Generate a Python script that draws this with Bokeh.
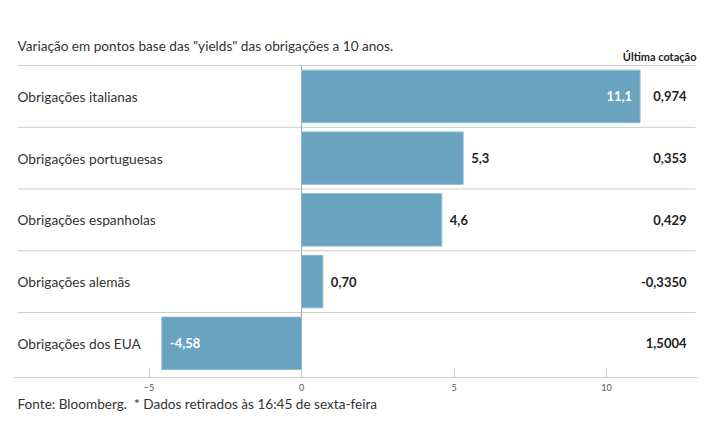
from bokeh.plotting import figure
from bokeh.models import ColumnDataSource, Range1d, FixedTicker, Label, Title
from bokeh.core.properties import value
from bokeh.embed import file_html
from bokeh.resources import INLINE

categories = ["Obrigações italianas", "Obrigações portuguesas", "Obrigações espanholas",
              "Obrigações alemãs", "Obrigações dos EUA"]
changes = [11.1, 5.3, 4.6, 0.70, -4.58]
change_labels = ["11,1", "5,3", "4,6", "0,70", "-4,58"]
last_quotes = ["0,974", "0,353", "0,429", "-0,3350", "1,5004"]
x_ticks = [-5, 0, 5, 10]

FONT = "Lato"
BAR = "#6aa3bf"
n = len(categories)
ys = [n - 0.5 - i for i in range(n)]

inside = [(v < 0) or (v > 8) for v in changes]
align, offs, cols = [], [], []
for v, ins in zip(changes, inside):
    if ins:
        align.append("right" if v > 0 else "left")
        offs.append(-8 if v > 0 else 8)
        cols.append("#ffffff")
    else:
        align.append("left")
        offs.append(8)
        cols.append("#222222")

src = ColumnDataSource(dict(y=ys, v=changes, lab=change_labels, cat=categories,
                            q=last_quotes, align=align, off=offs, col=cols,
                            zero=[0] * n))

PX = 30.5     # px per x unit
PY = 61.7     # px per row
X0 = -301 / PX
X1 = (715 - 301) / PX
SEP_L, SEP_R = (17 - 301) / PX, (695 - 301) / PX
AX_L, AX_R = (13 - 301) / PX, (697 - 301) / PX
Y0 = -3.3 / PY
Y_TOP = n + 65 / PY

p = figure(width=715, height=445, output_backend="svg", toolbar_location=None,
           x_range=Range1d(X0, X1), y_range=Range1d(Y0, Y_TOP), y_axis_location=None,
           min_border_left=0, min_border_right=0, min_border_top=0, min_border_bottom=68)
p.outline_line_color = None
p.grid.visible = False
p.xaxis.ticker = FixedTicker(ticks=x_ticks)
p.xaxis.bounds = (AX_L, AX_R)
p.xaxis.axis_line_color = "#cccccc"
p.xaxis.major_tick_line_color = "#cccccc"
p.xaxis.major_tick_in = 9
p.xaxis.major_tick_out = 0
p.xaxis.minor_tick_line_color = None
p.xaxis.major_label_text_font = FONT
p.xaxis.major_label_text_font_size = "9px"
p.xaxis.major_label_text_color = "#555555"
p.xaxis.major_label_standoff = 6

# row separators and zero line
bounds = list(range(1, n + 1))
p.segment(x0=[SEP_L] * n, x1=[SEP_R] * n, y0=bounds, y1=bounds,
          line_color="#cccccc", line_width=1)
p.segment(x0=[0], x1=[0], y0=[Y0], y1=[n], line_color="#aaaaaa", line_width=1)

p.hbar(y="y", left="zero", right="v", height=0.85, source=src,
       fill_color=BAR, line_color="#8fbcd2", line_width=1)

p.text(x="v", y="y", text="lab", source=src, text_align="align", x_offset="off",
       text_color="col", text_baseline="middle", text_font=value(FONT),
       text_font_size="13px", text_font_style="bold")

xl = X0 + 17 / PX
p.text(x=xl, y="y", text="cat", source=src, text_align="left", text_baseline="middle",
       text_font=value(FONT), text_font_size="13.7px", text_color="#333333")

p.text(x=X0 + 686 / PX, y="y", text="q", source=src, text_align="right",
       text_baseline="middle", text_font=value(FONT), text_font_size="13px",
       text_font_style="bold", text_color="#222222")

p.add_layout(Label(x=xl, y=n + 20 / PY,
                   text='Variação em pontos base das "yields" das obrigações a 10 anos.',
                   text_font=FONT, text_font_size="13.6px", text_color="#333333",
                   text_baseline="middle", text_align="left"))
p.add_layout(Label(x=X0 + 696 / PX, y=n + 9 / PY, text="Última cotação",
                   text_font=FONT, text_font_size="11px", text_font_style="bold",
                   text_color="#222222", text_baseline="middle", text_align="right"))

p.add_layout(Title(text="Fonte: Bloomberg.\u00a0 * Dados retirados às 16:45 de sexta-feira",
                   align="left", offset=17, standoff=0, text_font=FONT,
                   text_font_size="13.6px", text_font_style="normal",
                   text_color="#333333"), "below")

open("out.html", "w").write(file_html(p, INLINE))
